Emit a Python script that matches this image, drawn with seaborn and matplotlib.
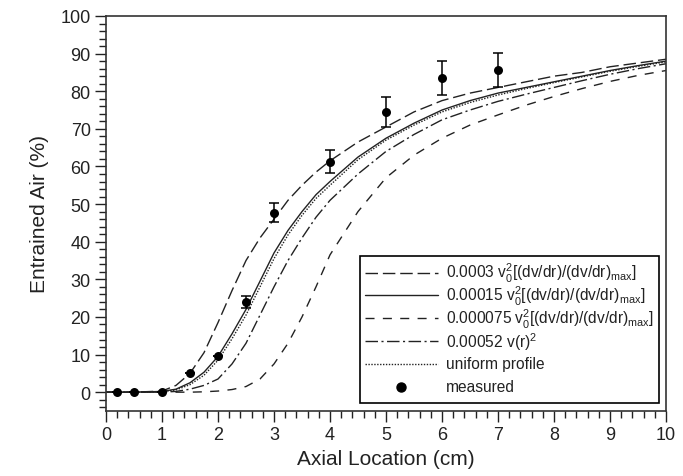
import matplotlib
matplotlib.use("Agg")
import matplotlib.pyplot as plt
import seaborn as sns
import numpy as np
import pandas as pd
from matplotlib.ticker import MultipleLocator
from matplotlib.lines import Line2D

# ---- data ----
x_curve = [0, 0.5, 1.0, 1.25, 1.5, 1.75, 2.0, 2.25, 2.5, 2.75, 3.0, 3.25, 3.5, 3.75,
           4.0, 4.5, 5.0, 5.5, 6.0, 6.5, 7.0, 7.5, 8.0, 8.5, 9.0, 9.5, 10.0]
y_0003 = [0, 0, 0.3, 1.8, 5, 10.5, 18.5, 27, 35, 41, 46, 51, 55, 58.5,
          61.5, 66.5, 70.5, 74.5, 77.5, 79.5, 81, 82.5, 84, 85, 86.5, 87.5, 88.5]
y_00015 = [0, 0, 0.2, 0.8, 2.5, 5.3, 9.5, 15.5, 22, 29.5, 37, 43, 48, 52.5,
           56, 62.5, 67.5, 71.5, 75, 77.5, 79.5, 81, 82.5, 84, 85.5, 86.8, 88]
y_000075 = [0, 0, 0, 0, 0, 0.1, 0.3, 0.7, 1.5, 3.5, 7.5, 13, 20, 28,
            36.5, 48, 57, 63, 67.5, 71, 73.7, 76.3, 78.6, 80.7, 82.6, 84.2, 85.5]
y_00052 = [0, 0, 0, 0.2, 0.8, 1.8, 3.5, 7.5, 13, 20.5, 28, 35, 41, 46.5,
           51, 58, 64, 68.5, 72.4, 75, 77.3, 79.2, 81, 82.8, 84.5, 86, 87.3]
y_uniform = [0, 0, 0.1, 0.6, 2, 4.5, 8.5, 14.2, 20.5, 28, 35.5, 41.8, 47, 51.5,
             55, 61.8, 67, 71, 74.5, 77, 79, 80.7, 82.3, 83.8, 85.3, 86.6, 87.8]

x_meas = [0.2, 0.5, 1.0, 1.5, 2.0, 2.5, 3.0, 4.0, 5.0, 6.0, 7.0]
y_meas = [0, 0, 0, 5.2, 9.5, 24, 47.7, 61.3, 74.5, 83.5, 85.7]
err_meas = [0, 0, 0, 0, 0, 1.5, 2.5, 3.0, 4.0, 4.5, 4.5]

labels = [
    r"0.0003 v$_0^2$[(dv/dr)/(dv/dr)$_{max}$]",
    r"0.00015 v$_0^2$[(dv/dr)/(dv/dr)$_{max}$]",
    r"0.000075 v$_0^2$[(dv/dr)/(dv/dr)$_{max}$]",
    r"0.00052 v(r)$^2$",
    "uniform profile",
    "measured",
]
x_ticks = list(range(0, 11))
y_ticks = list(range(0, 101, 10))

# ---- style ----
sns.set_style("ticks")
plt.rcParams["font.family"] = ["Liberation Sans", "DejaVu Sans"]
plt.rcParams["mathtext.default"] = "regular"
plt.rcParams["mathtext.fontset"] = "custom"
plt.rcParams["mathtext.rm"] = "Liberation Sans"

fig = plt.figure(figsize=(6.83, 4.77), dpi=100)
ax = fig.add_axes([0.1552, 0.1363, 0.8199, 0.8281])

lc = "#222222"
lw = 1.0
styles = [
    (0, (9, 3.5)),
    "-",
    (0, (6.5, 6)),
    (0, (9, 2.5, 1.5, 2.5)),
    (0, (1, 1.1)),
]
curves = [y_0003, y_00015, y_000075, y_00052, y_uniform]
for ys, ls, lab in zip(curves, styles, labels[:5]):
    sns.lineplot(x=x_curve, y=ys, ax=ax, color=lc, linewidth=lw, linestyle=ls,
                 label=lab, legend=False)

ax.errorbar(x_meas, y_meas, yerr=err_meas, fmt="none", ecolor="black",
            elinewidth=1.1, capsize=3.5, capthick=1.1, zorder=4)
sns.scatterplot(x=x_meas, y=y_meas, ax=ax, color="black", s=42,
                edgecolor="black", linewidth=0, zorder=5, legend=False)

ax.set_xlim(0, 10)
ax.set_ylim(-5, 100)
ax.set_xticks(x_ticks)
ax.set_yticks(y_ticks)
ax.xaxis.set_minor_locator(MultipleLocator(0.2))
ax.yaxis.set_minor_locator(MultipleLocator(2))
ax.tick_params(which="major", direction="out", length=8, width=1.0,
               labelsize=13, colors="#222222", pad=3)
ax.tick_params(which="minor", direction="out", length=5, width=1.0,
               colors="#222222")
for s in ax.spines.values():
    s.set_visible(True)
    s.set_linewidth(1.2)
    s.set_color("#333333")

ax.set_xlabel("Axial Location (cm)", fontsize=15, color="#222222", labelpad=4)
ax.set_ylabel("Entrained Air (%)", fontsize=15, color="#222222", labelpad=8)

handles = [Line2D([], [], color=lc, lw=lw, linestyle=ls) for ls in styles]
handles.append(Line2D([], [], color="black", marker="o", markersize=6.5,
                      linestyle="none"))
leg = ax.legend(handles, labels, loc="lower right",
                bbox_to_anchor=(0.9875, 0.02), borderaxespad=0.0,
                fontsize=11.2,
                handlelength=4.7, handletextpad=0.52,
                labelspacing=0.0,
                frameon=True, fancybox=False, borderpad=0.33,
                edgecolor="black", framealpha=1)
leg.get_frame().set_linewidth(1.2)
for t in leg.get_texts():
    t.set_color("#222222")
# give every legend row the same height and centre its contents
try:
    for col in leg._legend_handle_box.get_children():
        for row in col.get_children():
            row.align = "center"
            row.height = 22.8
except Exception:
    pass

fig.savefig("out.png", dpi=100)
